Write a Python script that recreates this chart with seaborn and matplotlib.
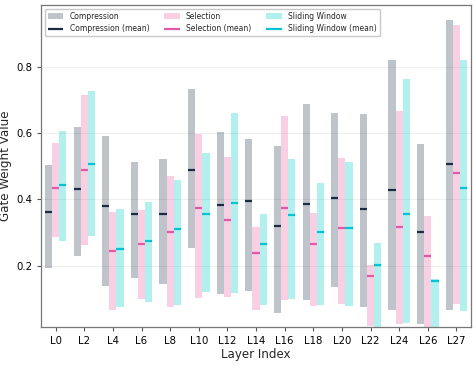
import numpy as np
import matplotlib
matplotlib.use("Agg")
import matplotlib.pyplot as plt
import seaborn as sns

layers = ["L0", "L2", "L4", "L6", "L8", "L10", "L12", "L14",
          "L16", "L18", "L20", "L22", "L24", "L26", "L27"]

# min / max / mean per layer
comp_min = [0.194, 0.229, 0.140, 0.164, 0.145, 0.254, 0.116, 0.124,
            0.057, 0.097, 0.135, 0.075, 0.068, 0.024, 0.067]
comp_max = [0.505, 0.618, 0.590, 0.512, 0.523, 0.734, 0.602, 0.582,
            0.562, 0.688, 0.661, 0.657, 0.821, 0.567, 0.941]
comp_mean = [0.361, 0.431, 0.381, 0.357, 0.356, 0.490, 0.383, 0.395,
             0.321, 0.387, 0.405, 0.371, 0.429, 0.301, 0.506]

sel_min = [0.286, 0.263, 0.067, 0.101, 0.077, 0.103, 0.105, 0.065,
           0.097, 0.080, 0.084, 0.018, 0.024, 0.015, 0.085]
sel_max = [0.570, 0.715, 0.361, 0.369, 0.470, 0.598, 0.527, 0.317,
           0.653, 0.360, 0.524, 0.201, 0.668, 0.350, 0.927]
sel_mean = [0.434, 0.490, 0.245, 0.265, 0.301, 0.374, 0.338, 0.237,
            0.373, 0.267, 0.315, 0.169, 0.318, 0.228, 0.481]

sw_min = [0.276, 0.291, 0.075, 0.091, 0.083, 0.120, 0.117, 0.083,
          0.100, 0.083, 0.079, 0.016, 0.027, 0.014, 0.063]
sw_max = [0.605, 0.726, 0.371, 0.393, 0.460, 0.539, 0.660, 0.356,
          0.523, 0.451, 0.512, 0.269, 0.762, 0.160, 0.821]
sw_mean = [0.445, 0.508, 0.252, 0.276, 0.311, 0.356, 0.390, 0.266,
           0.354, 0.302, 0.315, 0.203, 0.357, 0.155, 0.436]

sns.set_style("ticks")
plt.rcParams['font.family'] = ['DejaVu Sans']

fig, ax = plt.subplots(figsize=(4.75, 3.65), dpi=100)
fig.subplots_adjust(left=0.087, right=0.991, top=0.987, bottom=0.103)

x = np.arange(len(layers))
w = 0.25

gates = [
    ("Compression", comp_min, comp_max, comp_mean, "#2c3e50", "#1c2b45", 0.3, -w),
    ("Selection", sel_min, sel_max, sel_mean, "#e84393", "#e05aa8", 0.25, 0.0),
    ("Sliding Window", sw_min, sw_max, sw_mean, "#00cec9", "#00c4d6", 0.3, w),
]

handles = []
for name, lo, hi, mu, col, mcol, a, off in gates:
    lo = np.array(lo)
    hi = np.array(hi)
    b = ax.bar(x + off, hi - lo, bottom=lo, width=w, color=col, alpha=a,
               linewidth=0, label=name)
    m = ax.hlines(mu, x + off - w / 2, x + off + w / 2, color=mcol,
                  linewidth=1.6, label=name + " (mean)")
    handles += [b, m]

ax.set_xticks(x)
ax.set_xticklabels(layers, fontsize=7.3)
ax.tick_params(axis='y', labelsize=7.3)
ax.tick_params(colors='#555555', labelcolor='black', length=3)
ax.set_yticks([0.2, 0.4, 0.6, 0.8])
ax.set_xlim(-0.5, 14.5)
ax.set_xlabel("Layer Index", fontsize=8.6, labelpad=1)
ax.set_ylabel("Gate Weight Value", fontsize=8.6, labelpad=3)
ax.grid(axis='y', color='#dddddd', alpha=0.5, linewidth=0.7)
ax.set_axisbelow(True)
for s in ax.spines.values():
    s.set_color('#777777')
    s.set_linewidth(0.9)

ax.legend(handles=handles, loc='upper left', ncol=3, fontsize=5.5,
          frameon=True, edgecolor='#bbbbbb')

fig.savefig("out.png", dpi=100)
